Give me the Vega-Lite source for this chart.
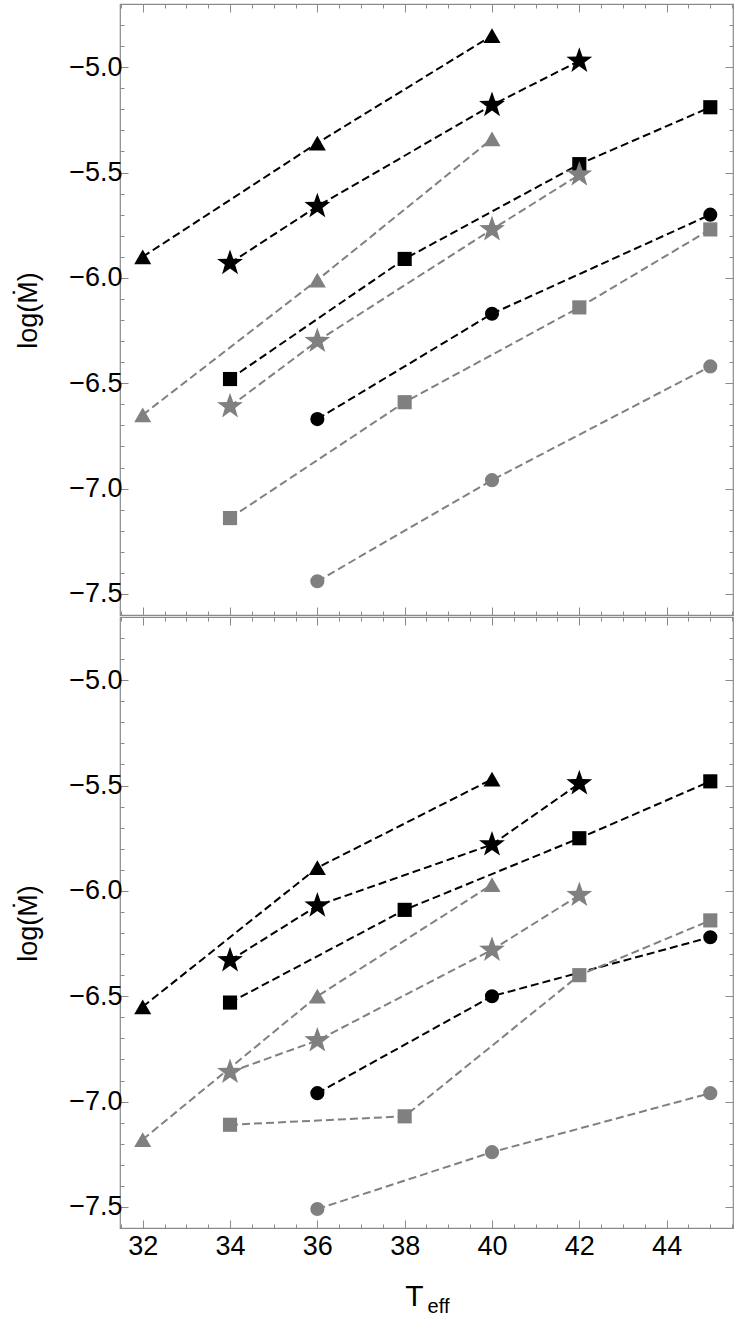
{
  "$schema": "https://vega.github.io/schema/vega-lite/v6.json",
  "padding": {"left": 13, "top": 2, "right": 5, "bottom": 5},
  "spacing": 2,
  "bounds": "flush",
  "config": {
    "view": {"stroke": "#8a8a8a", "strokeWidth": 1.2},
    "axis": {"domain": false, "grid": false, "tickColor": "#8a8a8a", "tickWidth": 1, "labelFont": "Liberation Sans", "titleFont": "Liberation Sans", "labelColor": "#000000", "titleColor": "#000000", "titleFontWeight": "normal"}
  },
  "datasets": {
    "pts": [
      {"panel": "top", "series": "bt", "shape": "triangle", "tone": "black", "T": 32, "logM": -5.90},
      {"panel": "top", "series": "bt", "shape": "triangle", "tone": "black", "T": 36, "logM": -5.36},
      {"panel": "top", "series": "bt", "shape": "triangle", "tone": "black", "T": 40, "logM": -4.85},
      {"panel": "top", "series": "bs", "shape": "star", "tone": "black", "T": 34, "logM": -5.93},
      {"panel": "top", "series": "bs", "shape": "star", "tone": "black", "T": 36, "logM": -5.66},
      {"panel": "top", "series": "bs", "shape": "star", "tone": "black", "T": 40, "logM": -5.18},
      {"panel": "top", "series": "bs", "shape": "star", "tone": "black", "T": 42, "logM": -4.97},
      {"panel": "top", "series": "bq", "shape": "square", "tone": "black", "T": 34, "logM": -6.48},
      {"panel": "top", "series": "bq", "shape": "square", "tone": "black", "T": 38, "logM": -5.91},
      {"panel": "top", "series": "bq", "shape": "square", "tone": "black", "T": 42, "logM": -5.46},
      {"panel": "top", "series": "bq", "shape": "square", "tone": "black", "T": 45, "logM": -5.19},
      {"panel": "top", "series": "bc", "shape": "circle", "tone": "black", "T": 36, "logM": -6.67},
      {"panel": "top", "series": "bc", "shape": "circle", "tone": "black", "T": 40, "logM": -6.17},
      {"panel": "top", "series": "bc", "shape": "circle", "tone": "black", "T": 45, "logM": -5.70},
      {"panel": "top", "series": "gt", "shape": "triangle", "tone": "grey", "T": 32, "logM": -6.65},
      {"panel": "top", "series": "gt", "shape": "triangle", "tone": "grey", "T": 36, "logM": -6.01},
      {"panel": "top", "series": "gt", "shape": "triangle", "tone": "grey", "T": 40, "logM": -5.34},
      {"panel": "top", "series": "gs", "shape": "star", "tone": "grey", "T": 34, "logM": -6.61},
      {"panel": "top", "series": "gs", "shape": "star", "tone": "grey", "T": 36, "logM": -6.30},
      {"panel": "top", "series": "gs", "shape": "star", "tone": "grey", "T": 40, "logM": -5.77},
      {"panel": "top", "series": "gs", "shape": "star", "tone": "grey", "T": 42, "logM": -5.51},
      {"panel": "top", "series": "gq", "shape": "square", "tone": "grey", "T": 34, "logM": -7.14},
      {"panel": "top", "series": "gq", "shape": "square", "tone": "grey", "T": 38, "logM": -6.59},
      {"panel": "top", "series": "gq", "shape": "square", "tone": "grey", "T": 42, "logM": -6.14},
      {"panel": "top", "series": "gq", "shape": "square", "tone": "grey", "T": 45, "logM": -5.77},
      {"panel": "top", "series": "gc", "shape": "circle", "tone": "grey", "T": 36, "logM": -7.44},
      {"panel": "top", "series": "gc", "shape": "circle", "tone": "grey", "T": 40, "logM": -6.96},
      {"panel": "top", "series": "gc", "shape": "circle", "tone": "grey", "T": 45, "logM": -6.42},
      {"panel": "bottom", "series": "bt", "shape": "triangle", "tone": "black", "T": 32, "logM": -6.55},
      {"panel": "bottom", "series": "bt", "shape": "triangle", "tone": "black", "T": 36, "logM": -5.89},
      {"panel": "bottom", "series": "bt", "shape": "triangle", "tone": "black", "T": 40, "logM": -5.47},
      {"panel": "bottom", "series": "bs", "shape": "star", "tone": "black", "T": 34, "logM": -6.33},
      {"panel": "bottom", "series": "bs", "shape": "star", "tone": "black", "T": 36, "logM": -6.07},
      {"panel": "bottom", "series": "bs", "shape": "star", "tone": "black", "T": 40, "logM": -5.78},
      {"panel": "bottom", "series": "bs", "shape": "star", "tone": "black", "T": 42, "logM": -5.49},
      {"panel": "bottom", "series": "bq", "shape": "square", "tone": "black", "T": 34, "logM": -6.53},
      {"panel": "bottom", "series": "bq", "shape": "square", "tone": "black", "T": 38, "logM": -6.09},
      {"panel": "bottom", "series": "bq", "shape": "square", "tone": "black", "T": 42, "logM": -5.75},
      {"panel": "bottom", "series": "bq", "shape": "square", "tone": "black", "T": 45, "logM": -5.48},
      {"panel": "bottom", "series": "bc", "shape": "circle", "tone": "black", "T": 36, "logM": -6.96},
      {"panel": "bottom", "series": "bc", "shape": "circle", "tone": "black", "T": 40, "logM": -6.50},
      {"panel": "bottom", "series": "bc", "shape": "circle", "tone": "black", "T": 45, "logM": -6.22},
      {"panel": "bottom", "series": "gt", "shape": "triangle", "tone": "grey", "T": 32, "logM": -7.18},
      {"panel": "bottom", "series": "gt", "shape": "triangle", "tone": "grey", "T": 36, "logM": -6.50},
      {"panel": "bottom", "series": "gt", "shape": "triangle", "tone": "grey", "T": 40, "logM": -5.97},
      {"panel": "bottom", "series": "gs", "shape": "star", "tone": "grey", "T": 34, "logM": -6.86},
      {"panel": "bottom", "series": "gs", "shape": "star", "tone": "grey", "T": 36, "logM": -6.71},
      {"panel": "bottom", "series": "gs", "shape": "star", "tone": "grey", "T": 40, "logM": -6.28},
      {"panel": "bottom", "series": "gs", "shape": "star", "tone": "grey", "T": 42, "logM": -6.02},
      {"panel": "bottom", "series": "gq", "shape": "square", "tone": "grey", "T": 34, "logM": -7.11},
      {"panel": "bottom", "series": "gq", "shape": "square", "tone": "grey", "T": 38, "logM": -7.07},
      {"panel": "bottom", "series": "gq", "shape": "square", "tone": "grey", "T": 42, "logM": -6.40},
      {"panel": "bottom", "series": "gq", "shape": "square", "tone": "grey", "T": 45, "logM": -6.14},
      {"panel": "bottom", "series": "gc", "shape": "circle", "tone": "grey", "T": 36, "logM": -7.51},
      {"panel": "bottom", "series": "gc", "shape": "circle", "tone": "grey", "T": 40, "logM": -7.24},
      {"panel": "bottom", "series": "gc", "shape": "circle", "tone": "grey", "T": 45, "logM": -6.96}
    ]
  },
  "vconcat": [
    {
      "width": 613, "height": 611,
      "data": {"name": "pts"},
      "transform": [{"filter": "datum.panel == 'top'"}],
      "layer": [
        {
          "mark": {"type": "line", "strokeDash": [8, 4], "strokeWidth": 2},
          "encoding": {
            "x": {"field": "T", "type": "quantitative", "scale": {"domain": [31.48, 45.52], "nice": false, "zero": false},
                  "axis": {"orient": "bottom", "values": [32, 34, 36, 38, 40, 42, 44], "tickSize": -8, "labels": false, "title": null}},
            "y": {"field": "logM", "type": "quantitative", "scale": {"domain": [-7.6, -4.7], "nice": false, "zero": false},
                  "axis": {"orient": "left", "values": [-7.5, -7, -6.5, -6, -5.5, -5], "format": ".1f", "tickSize": -8, "labelPadding": 6, "labelFontSize": 27,
                           "title": "log(Ṁ)", "titleFontSize": 27, "titleX": -92, "titleY": 306, "titleBaseline": "middle", "titleAlign": "center", "titleAngle": 270}},
            "detail": {"field": "series"},
            "color": {"field": "tone", "type": "nominal", "scale": {"domain": ["black", "grey"], "range": ["#000000", "#808080"]}, "legend": null}
          }
        },
        {
          "mark": {"type": "point", "filled": true, "opacity": 1},
          "encoding": {
            "x": {"field": "T", "type": "quantitative",
                  "axis": {"orient": "bottom", "values": [31.5, 32.5, 33, 33.5, 34.5, 35, 35.5, 36.5, 37, 37.5, 38.5, 39, 39.5, 40.5, 41, 41.5, 42.5, 43, 43.5, 44.5, 45, 45.5], "tickSize": -4, "labels": false, "title": null}},
            "y": {"field": "logM", "type": "quantitative",
                  "axis": {"orient": "left", "values": [-7.4, -7.3, -7.2, -7.1, -6.9, -6.8, -6.7, -6.6, -6.4, -6.3, -6.2, -6.1, -5.9, -5.8, -5.7, -5.6, -5.4, -5.3, -5.2, -5.1, -4.9, -4.8, -4.7], "tickSize": -4, "labels": false, "title": null}},
            "shape": {"field": "shape", "type": "nominal", "scale": {"domain": ["triangle", "star", "square", "circle"], "range": ["triangle-up", "M0,-1L0.235,-0.324L0.951,-0.309L0.380,0.124L0.588,0.809L0,0.4L-0.588,0.809L-0.380,0.124L-0.951,-0.309L-0.235,-0.324Z", "square", "circle"]}, "legend": null},
            "size": {"condition": [{"test": "datum.shape === 'star'", "value": 740}, {"test": "datum.shape === 'triangle'", "value": 290}], "value": 200},
            "color": {"field": "tone", "type": "nominal", "scale": {"domain": ["black", "grey"], "range": ["#000000", "#808080"]}, "legend": null}
          }
        },
        {
          "mark": {"type": "point", "opacity": 0},
          "encoding": {
            "x": {"field": "T", "type": "quantitative", "axis": {"orient": "top", "values": [32, 34, 36, 38, 40, 42, 44], "tickSize": -8, "labels": false, "title": null}},
            "y": {"field": "logM", "type": "quantitative", "axis": {"orient": "right", "values": [-7.5, -7, -6.5, -6, -5.5, -5], "tickSize": -8, "labels": false, "title": null}}
          }
        },
        {
          "mark": {"type": "point", "opacity": 0},
          "encoding": {
            "x": {"field": "T", "type": "quantitative", "axis": {"orient": "top", "values": [31.5, 32.5, 33, 33.5, 34.5, 35, 35.5, 36.5, 37, 37.5, 38.5, 39, 39.5, 40.5, 41, 41.5, 42.5, 43, 43.5, 44.5, 45, 45.5], "tickSize": -4, "labels": false, "title": null}},
            "y": {"field": "logM", "type": "quantitative", "axis": {"orient": "right", "values": [-7.4, -7.3, -7.2, -7.1, -6.9, -6.8, -6.7, -6.6, -6.4, -6.3, -6.2, -6.1, -5.9, -5.8, -5.7, -5.6, -5.4, -5.3, -5.2, -5.1, -4.9, -4.8, -4.7], "tickSize": -4, "labels": false, "title": null}}
          }
        }
      ],
      "resolve": {"axis": {"x": "independent", "y": "independent"}}
    },
    {
      "width": 613, "height": 611,
      "data": {"name": "pts"},
      "transform": [{"filter": "datum.panel == 'bottom'"}],
      "layer": [
        {
          "mark": {"type": "line", "strokeDash": [8, 4], "strokeWidth": 2},
          "encoding": {
            "x": {"field": "T", "type": "quantitative", "scale": {"domain": [31.48, 45.52], "nice": false, "zero": false},
                  "axis": {"orient": "bottom", "values": [32, 34, 36, 38, 40, 42, 44], "tickSize": -8, "labelPadding": 13, "labelFontSize": 27,
                           "title": "T", "titleFontSize": 30, "titleX": 294, "titleY": 77, "titleBaseline": "alphabetic", "titleAlign": "center"}},
            "y": {"field": "logM", "type": "quantitative", "scale": {"domain": [-7.6, -4.7], "nice": false, "zero": false},
                  "axis": {"orient": "left", "values": [-7.5, -7, -6.5, -6, -5.5, -5], "format": ".1f", "tickSize": -8, "labelPadding": 6, "labelFontSize": 27,
                           "title": "log(Ṁ)", "titleFontSize": 27, "titleX": -92, "titleY": 306, "titleBaseline": "middle", "titleAlign": "center", "titleAngle": 270}},
            "detail": {"field": "series"},
            "color": {"field": "tone", "type": "nominal", "scale": {"domain": ["black", "grey"], "range": ["#000000", "#808080"]}, "legend": null}
          }
        },
        {
          "mark": {"type": "point", "filled": true, "opacity": 1},
          "encoding": {
            "x": {"field": "T", "type": "quantitative",
                  "axis": {"orient": "bottom", "values": [31.5, 32.5, 33, 33.5, 34.5, 35, 35.5, 36.5, 37, 37.5, 38.5, 39, 39.5, 40.5, 41, 41.5, 42.5, 43, 43.5, 44.5, 45, 45.5], "tickSize": -4, "labels": false,
                           "title": "eff", "titleFontSize": 20, "titleX": 318, "titleY": 84, "titleBaseline": "alphabetic", "titleAlign": "center"}},
            "y": {"field": "logM", "type": "quantitative",
                  "axis": {"orient": "left", "values": [-7.4, -7.3, -7.2, -7.1, -6.9, -6.8, -6.7, -6.6, -6.4, -6.3, -6.2, -6.1, -5.9, -5.8, -5.7, -5.6, -5.4, -5.3, -5.2, -5.1, -4.9, -4.8, -4.7], "tickSize": -4, "labels": false, "title": null}},
            "shape": {"field": "shape", "type": "nominal", "scale": {"domain": ["triangle", "star", "square", "circle"], "range": ["triangle-up", "M0,-1L0.235,-0.324L0.951,-0.309L0.380,0.124L0.588,0.809L0,0.4L-0.588,0.809L-0.380,0.124L-0.951,-0.309L-0.235,-0.324Z", "square", "circle"]}, "legend": null},
            "size": {"condition": [{"test": "datum.shape === 'star'", "value": 740}, {"test": "datum.shape === 'triangle'", "value": 290}], "value": 200},
            "color": {"field": "tone", "type": "nominal", "scale": {"domain": ["black", "grey"], "range": ["#000000", "#808080"]}, "legend": null}
          }
        },
        {
          "mark": {"type": "point", "opacity": 0},
          "encoding": {
            "x": {"field": "T", "type": "quantitative", "axis": {"orient": "top", "values": [32, 34, 36, 38, 40, 42, 44], "tickSize": -8, "labels": false, "title": null}},
            "y": {"field": "logM", "type": "quantitative", "axis": {"orient": "right", "values": [-7.5, -7, -6.5, -6, -5.5, -5], "tickSize": -8, "labels": false, "title": null}}
          }
        },
        {
          "mark": {"type": "point", "opacity": 0},
          "encoding": {
            "x": {"field": "T", "type": "quantitative", "axis": {"orient": "top", "values": [31.5, 32.5, 33, 33.5, 34.5, 35, 35.5, 36.5, 37, 37.5, 38.5, 39, 39.5, 40.5, 41, 41.5, 42.5, 43, 43.5, 44.5, 45, 45.5], "tickSize": -4, "labels": false, "title": null}},
            "y": {"field": "logM", "type": "quantitative", "axis": {"orient": "right", "values": [-7.4, -7.3, -7.2, -7.1, -6.9, -6.8, -6.7, -6.6, -6.4, -6.3, -6.2, -6.1, -5.9, -5.8, -5.7, -5.6, -5.4, -5.3, -5.2, -5.1, -4.9, -4.8, -4.7], "tickSize": -4, "labels": false, "title": null}}
          }
        }
      ],
      "resolve": {"axis": {"x": "independent", "y": "independent"}}
    }
  ]
}
